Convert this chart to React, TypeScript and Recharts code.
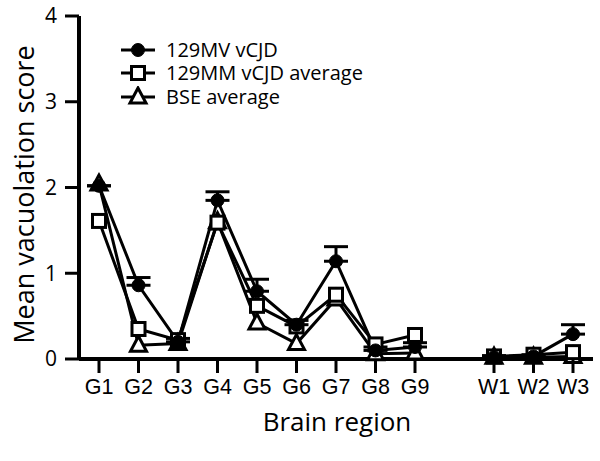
import React from "react";
import {
  LineChart,
  Line,
  XAxis,
  YAxis,
  ErrorBar,
  Legend,
} from "recharts";

// brain regions, the empty slot makes the gap between G9 and W1
const regions = ["G1", "G2", "G3", "G4", "G5", "G6", "G7", "G8", "G9", "", "W1", "W2", "W3"];
const mvScores = [2.02, 0.86, 0.2, 1.85, 0.79, 0.4, 1.14, 0.1, 0.14, null, 0.02, 0.03, 0.29];
const mvErrors = [0, 0.09, 0.04, 0.1, 0.14, 0.05, 0.17, 0.04, 0.05, null, 0.02, 0.02, 0.11];
const mmScores = [1.61, 0.35, 0.22, 1.59, 0.62, 0.38, 0.75, 0.17, 0.28, null, 0.03, 0.05, 0.08];
const bseScores = [2.04, 0.16, 0.18, 1.6, 0.42, 0.18, 0.7, 0.06, 0.07, null, 0.02, 0.02, 0.03];
const yTicks = [0, 1, 2, 3, 4];

const FONT = "'Open Sans', Lato, sans-serif";
const TICK_FONT = "'Liberation Sans', Arial, sans-serif";

// error bars only point upwards in the original
const data = regions.map((region, i) => ({
  region,
  mv: mvScores[i],
  mvErr: mvErrors[i] == null ? null : [0, mvErrors[i]],
  mm: mmScores[i],
  bse: bseScores[i],
}));

type Shape = "circle" | "square" | "triangle";

function Marker({ cx, cy, shape }: { cx: number; cy: number; shape: Shape }) {
  if (shape === "circle") {
    return <circle cx={cx} cy={cy} r={6.5} fill="#000" stroke="#000" strokeWidth={1} />;
  }
  if (shape === "square") {
    return <rect x={cx - 6.5} y={cy - 6.5} width={13} height={13} fill="#fff" stroke="#000" strokeWidth={3} />;
  }
  return (
    <polygon
      points={`${cx},${cy - 9} ${cx - 8},${cy + 6} ${cx + 8},${cy + 6}`}
      fill="#fff"
      stroke="#000"
      strokeWidth={3}
      strokeLinejoin="miter"
    />
  );
}

const makeDot = (shape: Shape) => (props: any) => {
  const { cx, cy, index, value } = props;
  if (cx == null || cy == null || value == null) return <g key={`${shape}-${index}`} />;
  return (
    <g key={`${shape}-${index}`}>
      <Marker cx={cx} cy={cy} shape={shape} />
    </g>
  );
};

const legendItems: { label: string; shape: Shape }[] = [
  { label: "129MV vCJD", shape: "circle" },
  { label: "129MM vCJD average", shape: "square" },
  { label: "BSE average", shape: "triangle" },
];

function LegendBox() {
  return (
    <div style={{ fontFamily: FONT, fontSize: 20, color: "#000" }}>
      {legendItems.map((item) => (
        <div key={item.label} style={{ display: "flex", alignItems: "center", height: 23.5 }}>
          <svg width={40} height={22}>
            <line x1={3} y1={11} x2={37} y2={11} stroke="#000" strokeWidth={3} />
            <Marker cx={20} cy={11} shape={item.shape} />
          </svg>
          <span style={{ marginLeft: 8, lineHeight: "22px" }}>{item.label}</span>
        </div>
      ))}
    </div>
  );
}

function RegionTick(props: any) {
  const { x, y, payload } = props;
  if (!payload.value) return <g />;
  return (
    <g>
      <line x1={x} y1={y - 17} x2={x} y2={y - 3} stroke="#000" strokeWidth={3} />
      <text x={x} y={y + 18} textAnchor="middle" fontSize={21.5} fontFamily={TICK_FONT} fill="#000">
        {payload.value}
      </text>
    </g>
  );
}

export default function App() {
  return (
    <div style={{ position: "absolute", left: 0, top: 0, background: "#fff" }}>
      <LineChart
        width={600}
        height={461}
        data={data}
        margin={{ top: 16, right: 7, bottom: 52, left: 0 }}
      >
        <XAxis
          dataKey="region"
          interval={0}
          height={50}
          padding={{ left: 20, right: 20 }}
          tickSize={14}
          tickMargin={3}
          tickLine={false}
          tick={<RegionTick />}
          axisLine={{ stroke: "#000", strokeWidth: 4 }}
          label={(p: any) => {
            const vb = p.viewBox;
            return (
              <text
                x={vb.x + vb.width / 2 + 1}
                y={vb.y + 72}
                textAnchor="middle"
                fontSize={26}
                fontFamily={FONT}
                fill="#000"
              >
                Brain region
              </text>
            );
          }}
        />
        <YAxis
          domain={[0, 4]}
          ticks={yTicks}
          width={79}
          tickSize={14}
          tickMargin={8}
          tick={{ fontSize: 21, fontFamily: FONT, fill: "#000" }}
          tickLine={{ stroke: "#000", strokeWidth: 3 }}
          axisLine={{ stroke: "#000", strokeWidth: 4 }}
          label={(p: any) => {
            const vb = p.viewBox;
            const cx = 34;
            const cy = vb.y + vb.height / 2 + 7;
            return (
              <text
                x={cx}
                y={cy}
                transform={`rotate(-90, ${cx}, ${cy})`}
                textAnchor="middle"
                fontSize={27}
                fontFamily={FONT}
                fill="#000"
              >
                Mean vacuolation score
              </text>
            );
          }}
        />
        <Legend
          layout="horizontal"
          verticalAlign="middle"
          align="center"
          wrapperStyle={{ top: 38, left: 118, width: 320, height: "auto" }}
          content={() => <LegendBox />}
        />
        <Line
          dataKey="bse"
          stroke="#000"
          strokeWidth={3}
          dot={makeDot("triangle")}
          activeDot={false}
          isAnimationActive={false}
        />
        <Line
          dataKey="mm"
          stroke="#000"
          strokeWidth={3}
          dot={makeDot("square")}
          activeDot={false}
          isAnimationActive={false}
        />
        <Line
          dataKey="mv"
          stroke="#000"
          strokeWidth={3}
          dot={makeDot("circle")}
          activeDot={false}
          isAnimationActive={false}
        >
          <ErrorBar dataKey="mvErr" width={12} strokeWidth={3} stroke="#000" />
        </Line>
      </LineChart>
    </div>
  );
}
